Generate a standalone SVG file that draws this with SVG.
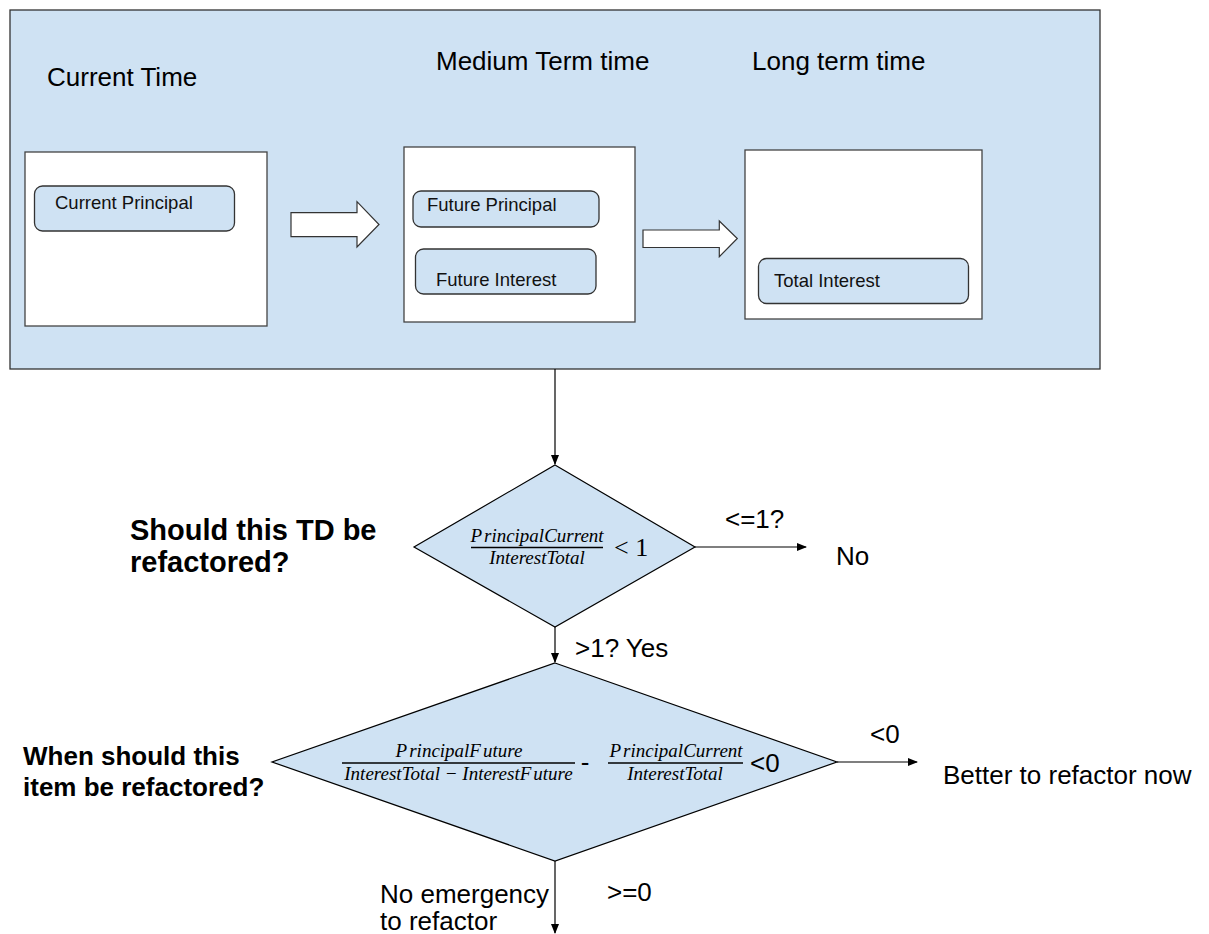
<svg xmlns="http://www.w3.org/2000/svg" width="1209" height="934" viewBox="0 0 1209 934">
<defs>
<style>
.lbl{font-family:"Liberation Sans",Arial,sans-serif;font-size:26px;fill:#000}
.small{font-family:"Liberation Sans",Arial,sans-serif;font-size:18.5px;fill:#111}
.bold{font-family:"Liberation Sans",Arial,sans-serif;font-size:26px;font-weight:bold;fill:#000}
.bold29{font-family:"Liberation Sans",Arial,sans-serif;font-size:29px;font-weight:bold;fill:#000}
.math{font-family:"Liberation Serif","Times New Roman",serif;font-size:19px;font-style:italic;fill:#000}
.mathr{font-family:"Liberation Serif","Times New Roman",serif;font-size:26px;fill:#000}
.box{fill:#fff;stroke:#444;stroke-width:1.3}
.pill{fill:#cfe2f3;stroke:#333;stroke-width:1.3}
.blk{fill:#fff;stroke:#333;stroke-width:1.2}
.dia{fill:#cfe2f3;stroke:#000;stroke-width:1.2}
.conn{fill:none;stroke:#000;stroke-width:1.2;marker-end:url(#ah)}
.bar{stroke:#000;stroke-width:1.3}
</style>
<marker id="ah" markerWidth="10" markerHeight="8" refX="9" refY="4" orient="auto" markerUnits="userSpaceOnUse">
<path d="M0,0 L10,4 L0,8 Z" fill="#000"/>
</marker>
</defs>
<rect width="1209" height="934" fill="#fff"/>

<g id="container">
<rect x="10" y="10" width="1090" height="359" fill="#cfe2f3" stroke="#333" stroke-width="1.3"/>
<text class="lbl" x="47" y="86">Current Time</text>
<text class="lbl" x="436" y="70">Medium Term time</text>
<text class="lbl" x="752" y="70">Long term time</text>
</g>

<g id="current-box">
<rect class="box" x="25" y="152" width="242" height="174"/>
</g>
<g id="current-principal">
<rect class="pill" x="34.5" y="186" width="200" height="45" rx="8"/>
<text class="small" x="55" y="209">Current Principal</text>
</g>

<g id="block-arrow-1">
<polygon class="blk" points="291,212.7 357,212.7 357,201.7 379,224.5 357,247 357,236.7 291,236.7"/>
</g>

<g id="medium-box">
<rect class="box" x="404" y="147" width="231" height="175"/>
</g>
<g id="future-principal">
<rect class="pill" x="413" y="191" width="186" height="36" rx="8"/>
<text class="small" x="427" y="211">Future Principal</text>
</g>
<g id="future-interest">
<rect class="pill" x="415.5" y="249" width="180.5" height="45" rx="8"/>
<text class="small" x="436" y="286">Future Interest</text>
</g>

<g id="block-arrow-2">
<polygon class="blk" points="643,230 719.3,230 719.3,221 737.3,238.5 719.3,256.7 719.3,247.5 643,247.5"/>
</g>

<g id="long-box">
<rect class="box" x="745" y="150" width="237" height="169"/>
</g>
<g id="total-interest">
<rect class="pill" x="758.5" y="258.5" width="210" height="45" rx="8"/>
<text class="small" x="774" y="287">Total Interest</text>
</g>

<g id="decision-1">
<polygon class="dia" points="555,465 695,547 555,627 414,547"/>
<text class="math" x="537" y="542" text-anchor="middle"><tspan>P</tspan><tspan dx="2">rincipalCurrent</tspan></text>
<line class="bar" x1="471" y1="547.5" x2="603" y2="547.5"/>
<text class="math" x="537" y="564" text-anchor="middle">InterestTotal</text>
<text class="mathr" x="614" y="556">&lt; 1</text>
</g>
<g id="question-1">
<text class="bold29" x="130" y="540">Should this TD be</text>
<text class="bold29" x="130" y="572">refactored?</text>
</g>

<g id="decision-2">
<polygon class="dia" points="555,663 837,762 555,861 272,762"/>
<text class="math" x="459" y="757" text-anchor="middle"><tspan>P</tspan><tspan dx="2">rincipalF</tspan><tspan dx="2">uture</tspan></text>
<line class="bar" x1="342" y1="763" x2="575" y2="763"/>
<text class="math" x="458.5" y="780" text-anchor="middle">InterestTotal − InterestF<tspan dx="2">uture</tspan></text>
<text class="lbl" x="585" y="771" text-anchor="middle">-</text>
<text class="math" x="676" y="757" text-anchor="middle"><tspan>P</tspan><tspan dx="2">rincipalCurrent</tspan></text>
<line class="bar" x1="608" y1="763" x2="743" y2="763"/>
<text class="math" x="675" y="780" text-anchor="middle">InterestTotal</text>
<text class="lbl" x="750" y="772">&lt;0</text>
</g>
<g id="question-2">
<text class="bold" x="23" y="765">When should this</text>
<text class="bold" x="23" y="796">item be refactored?</text>
</g>

<g id="outcome-no">
<text class="lbl" x="836" y="565">No</text>
</g>
<g id="outcome-now">
<text class="lbl" x="943" y="784">Better to refactor now</text>
</g>
<g id="outcome-later">
<text class="lbl" x="380" y="903">No emergency</text>
<text class="lbl" x="380" y="930">to refactor</text>
</g>

<g id="connectors">
<line class="conn" x1="555" y1="369" x2="555" y2="464"/>
<line class="conn" x1="695" y1="547" x2="806" y2="547"/>
<line class="conn" x1="555" y1="627" x2="555" y2="662"/>
<line class="conn" x1="837" y1="762" x2="917" y2="762"/>
<line class="conn" x1="555" y1="861" x2="555" y2="933"/>
<text class="lbl" x="725" y="528">&lt;=1?</text>
<text class="lbl" x="575" y="657">&gt;1? Yes</text>
<text class="lbl" x="870" y="743">&lt;0</text>
<text class="lbl" x="607" y="901">&gt;=0</text>
</g>
</svg>
